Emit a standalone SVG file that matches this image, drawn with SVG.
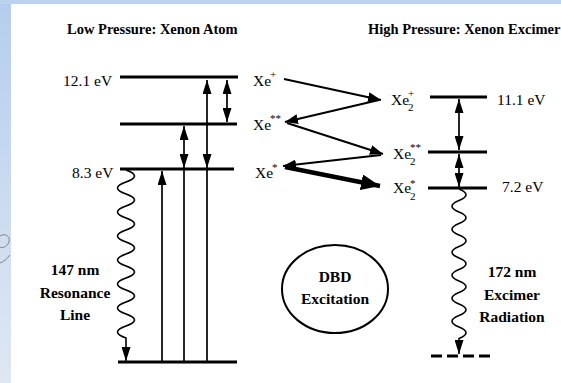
<svg xmlns="http://www.w3.org/2000/svg" width="561" height="383" viewBox="0 0 561 383">
<style>
text{font-family:"Liberation Serif","Times New Roman",serif;fill:#000}
.t{font-size:14.5px;font-weight:bold}
.b{font-size:15.5px;font-weight:bold}
.n{font-size:15.5px}
.s{font-size:11px}
.lvl{stroke:#000;stroke-width:3;fill:none}
.v{stroke:#000;stroke-width:1.7;fill:none}
.z{stroke:#000;stroke-width:2;fill:none}
.w{stroke:#000;stroke-width:1.6;fill:none}
</style>
<defs>
<linearGradient id="side" x1="0" y1="0" x2="0" y2="1">
<stop offset="0" stop-color="#b5cdee"/>
<stop offset="1" stop-color="#e0e7f3"/>
</linearGradient>
<marker id="ah" viewBox="0 0 14 9" refX="14" refY="4.5" markerWidth="14" markerHeight="9" markerUnits="userSpaceOnUse" orient="auto-start-reverse">
<path d="M0,0 L14,4.5 L0,9 z" fill="#000"/>
</marker>
<marker id="az" viewBox="0 0 13 10" refX="13" refY="5" markerWidth="13" markerHeight="10" markerUnits="userSpaceOnUse" orient="auto">
<path d="M0,0 L13,5 L0,10 z" fill="#000"/>
</marker>
<marker id="ab" viewBox="0 0 19 16" refX="19" refY="8" markerWidth="19" markerHeight="16" markerUnits="userSpaceOnUse" orient="auto">
<path d="M0,0 L19,8 L0,16 z" fill="#000"/>
</marker>
</defs>
<rect width="561" height="383" fill="#fff"/>
<rect x="0" y="0" width="11" height="383" fill="url(#side)"/>
<rect x="0" y="0" width="561" height="4" fill="#bcd3ef"/>
<path d="M0 236 C6 232 12 238 8 244 C5 248 1 248 0 247 M10 255 C7 259 3 262 0 263" stroke="#777" stroke-width="0.9" fill="none"/>

<g id="title-low"><text class="t" x="67" y="34">Low Pressure: Xenon Atom</text></g>
<g id="title-high"><text class="t" x="368" y="34">High Pressure: Xenon Excimer</text></g>

<g id="level-xe-plus">
<line class="lvl" x1="120" y1="77" x2="238" y2="77"/>
<text class="n" x="63" y="86">12.1 eV</text>
<text class="n" x="253" y="86">Xe</text><text class="s" x="270" y="78">+</text>
</g>
<g id="level-xe-2star">
<line class="lvl" x1="120" y1="124" x2="237" y2="124"/>
<text class="n" x="253" y="130">Xe</text><text class="s" x="270" y="122">**</text>
</g>
<g id="level-xe-star">
<line class="lvl" x1="120" y1="169" x2="234" y2="169"/>
<text class="n" x="72" y="178">8.3 eV</text>
<text class="n" x="255" y="178">Xe</text><text class="s" x="272" y="171">*</text>
</g>
<g id="level-ground">
<line class="lvl" x1="118" y1="362" x2="237" y2="362"/>
</g>
<g id="label-147">
<text class="b" x="75" y="275" text-anchor="middle">147 nm</text>
<text class="b" x="75" y="298" text-anchor="middle">Resonance</text>
<text class="b" x="75" y="320" text-anchor="middle">Line</text>
</g>

<g id="level-xe2-plus">
<line class="lvl" x1="430" y1="97" x2="487" y2="97"/>
<text class="n" x="391" y="105">Xe</text><text class="s" x="408" y="97">+</text><text class="s" x="408" y="111">2</text>
<text class="n" x="497" y="105">11.1 eV</text>
</g>
<g id="level-xe2-2star">
<line class="lvl" x1="428" y1="152" x2="487" y2="152"/>
<text class="n" x="393" y="159">Xe</text><text class="s" x="410" y="151">**</text><text class="s" x="410" y="165">2</text>
</g>
<g id="level-xe2-star">
<line class="lvl" x1="428" y1="188" x2="487" y2="188"/>
<text class="n" x="393" y="193">Xe</text><text class="s" x="410" y="187">*</text><text class="s" x="410" y="200">2</text>
<text class="n" x="502" y="192">7.2 eV</text>
</g>
<g id="level-dissociative">
<line x1="431" y1="356" x2="493" y2="356" stroke="#000" stroke-width="3" stroke-dasharray="11,5"/>
</g>
<g id="label-172">
<text class="b" x="512" y="277" text-anchor="middle">172 nm</text>
<text class="b" x="512" y="300" text-anchor="middle">Excimer</text>
<text class="b" x="512" y="322" text-anchor="middle">Radiation</text>
</g>

<g id="dbd">
<ellipse cx="335" cy="289" rx="53" ry="44" fill="none" stroke="#000" stroke-width="2"/>
<text class="b" x="335" y="282" text-anchor="middle">DBD</text>
<text class="b" x="335" y="304" text-anchor="middle">Excitation</text>
</g>

<g id="connectors">
<line class="v" x1="227" y1="80" x2="227" y2="122" marker-start="url(#ah)" marker-end="url(#ah)"/>
<line class="v" x1="184" y1="126" x2="184" y2="168" marker-start="url(#ah)" marker-end="url(#ah)"/>
<line class="v" x1="184" y1="168" x2="184" y2="362"/>
<line class="v" x1="207" y1="80" x2="207" y2="168" marker-start="url(#ah)" marker-end="url(#ah)"/>
<line class="v" x1="207" y1="168" x2="207" y2="362"/>
<line class="v" x1="162" y1="362" x2="162" y2="171" marker-end="url(#ah)"/>
<path class="w" d="M126 170 q17 6 0 12 t0 12 t0 12 t0 12 t0 12 t0 12 t0 12 t0 12 t0 12 t0 12 t0 12 t0 12 t0 12 t0 12 L126 361" marker-end="url(#ah)"/>

<line class="v" x1="459" y1="99" x2="459" y2="150" marker-start="url(#ah)" marker-end="url(#ah)"/>
<line class="v" x1="459" y1="154" x2="459" y2="187" marker-start="url(#ah)" marker-end="url(#ah)"/>
<path class="w" d="M459 189 q14 5.75 0 11.5 t0 11.5 t0 11.5 t0 11.5 t0 11.5 t0 11.5 t0 11.5 t0 11.5 t0 11.5 t0 11.5 t0 11.5 t0 11.5 t0 11.5 L459 354" marker-end="url(#ah)"/>

<line class="z" x1="284" y1="79" x2="381" y2="100" marker-end="url(#az)"/>
<line class="z" x1="379" y1="100" x2="285" y2="122" marker-end="url(#az)"/>
<line class="z" x1="287" y1="123" x2="383" y2="154" marker-end="url(#az)"/>
<line class="z" x1="381" y1="155" x2="283" y2="166" marker-end="url(#az)"/>
<line x1="285" y1="167" x2="380" y2="186" stroke="#000" stroke-width="4.5" marker-end="url(#ab)"/>
</g>
</svg>
